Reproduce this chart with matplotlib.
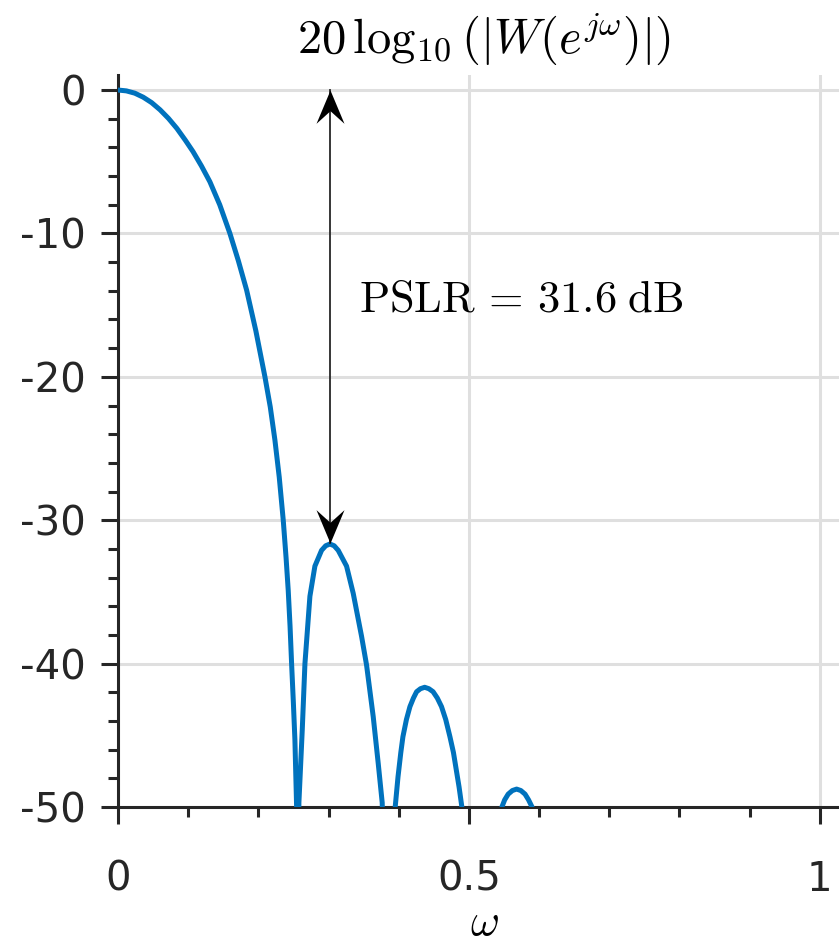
import numpy as np
import matplotlib.pyplot as plt
from matplotlib.path import Path
from matplotlib.transforms import Affine2D

plt.rcParams['mathtext.fontset'] = 'cm'
plt.rcParams['font.family'] = ['DejaVu Sans']

# curve (omega / pi, dB); -70 marks nulls below the axis
omega = [0.000, 0.012, 0.024, 0.036, 0.048, 0.060, 0.072, 0.084, 0.096, 0.107,
         0.119, 0.131, 0.145, 0.1595, 0.1715, 0.1833, 0.1965, 0.2094, 0.217, 0.2236,
         0.2298, 0.2355, 0.2395, 0.2426, 0.2452, 0.2474, 0.2499, 0.2521, 0.2545, 0.2565,
         0.2578, 0.2626, 0.2664, 0.2735, 0.2806, 0.2901, 0.296, 0.302, 0.308, 0.3138,
         0.3257, 0.3352, 0.3471, 0.3542, 0.3637, 0.3708, 0.3765, 0.386,
         0.395, 0.399, 0.403, 0.406, 0.411, 0.416, 0.421, 0.4255, 0.431, 0.437,
         0.443, 0.449, 0.455, 0.461, 0.467, 0.473, 0.478, 0.482, 0.486, 0.490, 0.52,
         0.547, 0.551, 0.556, 0.562, 0.568, 0.574, 0.580, 0.585, 0.590, 0.62]
mag_db = [0.0, -0.06, -0.22, -0.5, -0.88, -1.38, -1.98, -2.68, -3.5, -4.3,
          -5.3, -6.4, -8.0, -10.0, -11.9, -13.95, -16.8, -20.0, -22.1, -24.4,
          -27.0, -30.0, -32.6, -34.9, -37.4, -40.0, -42.7, -45.3, -49.9, -70,
          -49.7, -44.6, -40.0, -35.3, -33.2, -32.1, -31.78, -31.66, -31.78, -32.1,
          -33.2, -35.1, -38.1, -40.1, -43.7, -46.95, -49.7, -70,
          -50.0, -47.9, -46.2, -45.1, -43.9, -43.0, -42.4, -41.96, -41.75, -41.65,
          -41.75, -41.96, -42.4, -43.0, -43.9, -45.1, -46.2, -47.4, -48.6, -50.0, -70,
          -50.0, -49.5, -49.1, -48.85, -48.75, -48.85, -49.1, -49.5, -50.0, -70]

pslr = 31.6
pslr_omega = 0.302

xticks = [0, 0.5, 1]
xtick_labels = ['0', '0.5', '1']
yticks = [-50, -40, -30, -20, -10, 0]
ytick_labels = ['-50', '-40', '-30', '-20', '-10', '0']

fig = plt.figure(figsize=(8.39, 9.43), dpi=100)
ax = fig.add_axes([0.1406, 0.1442, 0.8725, 0.7763])

ax.plot(omega, mag_db, color='#0072BD', lw=3.6, solid_joinstyle='round', zorder=3)

ax.set_xlim(0, 1.043)
ax.set_ylim(-50, 1.05)
ax.set_xticks(xticks)
ax.set_xticklabels(xtick_labels)
ax.set_yticks(yticks)
ax.set_yticklabels(ytick_labels)
ax.set_xticks(np.arange(0, 1.05, 0.1), minor=True)
ax.set_yticks(np.arange(-50, 1, 2), minor=True)

ax.grid(True, which='major', color='#dfdfdf', lw=2.2)
ax.set_axisbelow(True)
for s in ['top', 'right']:
    ax.spines[s].set_visible(False)
for s in ['left', 'bottom']:
    ax.spines[s].set_linewidth(2.2)
    ax.spines[s].set_color('#262626')
ax.tick_params(which='major', direction='out', length=12, width=2.2,
               color='#262626', labelcolor='#262626', labelsize=29)
ax.tick_params(axis='y', which='major', pad=11)
ax.tick_params(axis='x', which='major', pad=26)
ax.tick_params(which='minor', direction='out', length=7, width=2.2, color='#262626')

# double arrow for the PSLR
dart = Path([(0, 0), (-0.42, -1), (0, -0.62), (0.42, -1), (0, 0)],
            [Path.MOVETO, Path.LINETO, Path.LINETO, Path.LINETO, Path.CLOSEPOLY])
dart_down = dart.transformed(Affine2D().scale(1, -1))
ax.plot([pslr_omega, pslr_omega], [0, -pslr], color='#262626', lw=1.3, zorder=4)
ax.plot([pslr_omega], [0], marker=dart, ms=48, color='black', mew=0, zorder=5)
ax.plot([pslr_omega], [-pslr], marker=dart_down, ms=48, color='black', mew=0, zorder=5)

ax.text(0.343, -14.6, r'$\mathrm{PSLR}\,=\,31.6\;\mathrm{dB}$', fontsize=32,
        va='center', ha='left')
ax.set_title(r'$20\,\log_{10}(|W(e^{j\omega})|)$', fontsize=35, pad=16)
ax.set_xlabel(r'$\omega$', fontsize=32, va='center')
ax.xaxis.set_label_coords(0.5, -0.158)

fig.savefig('out.png', dpi=100)
